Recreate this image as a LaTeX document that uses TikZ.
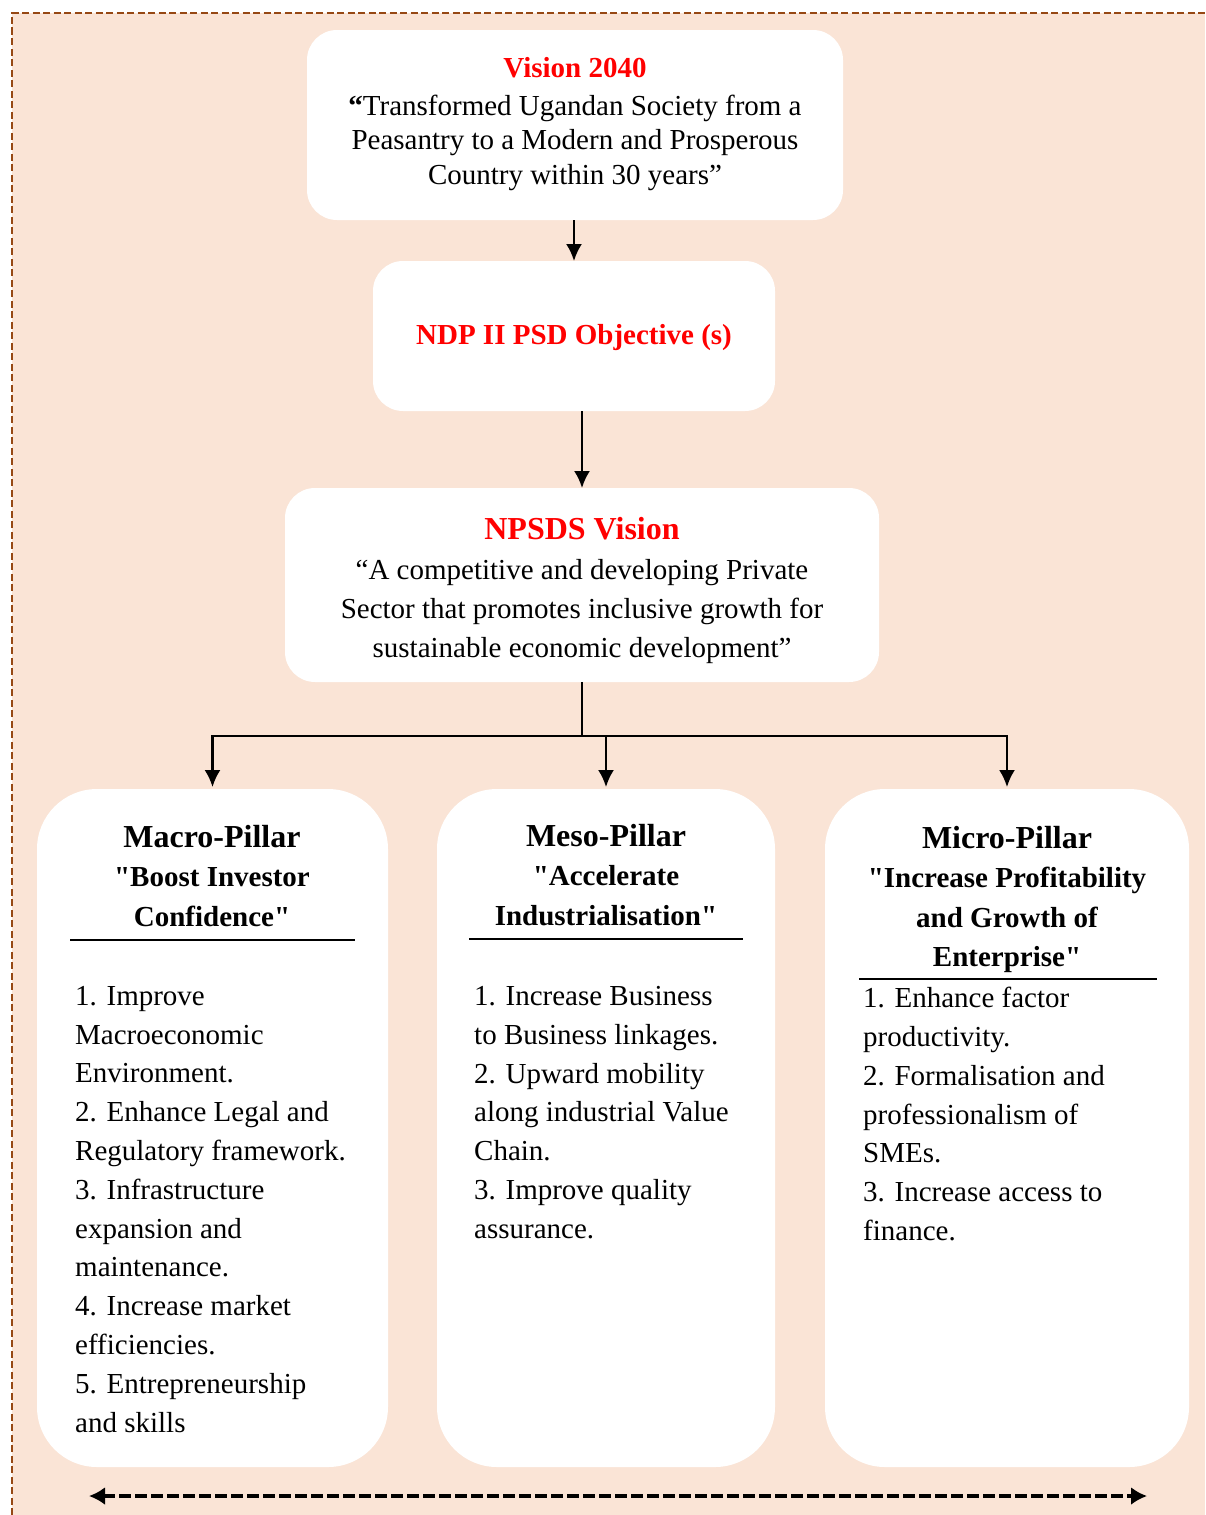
\documentclass[tikz,border=0pt]{standalone}
\usepackage{fontspec}
\setmainfont{Liberation Serif}
\usetikzlibrary{arrows.meta}
\definecolor{peach}{RGB}{250,228,214}
\definecolor{brownb}{RGB}{150,72,20}
\definecolor{vred}{RGB}{255,0,0}
\newcommand{\sq}{\textquotedbl}
\newcommand{\bigttl}{\fontsize{32}{39.5}\selectfont\bfseries}
\begin{document}
\begin{tikzpicture}[x=1pt,y=-1pt,
  wbox/.style={fill=white, draw=none, inner sep=0pt, outer sep=0pt, anchor=north west},
  topbox/.style={wbox, rounded corners=30pt},
  pillar/.style={wbox, rounded corners=60pt},
  ttl/.style={inner sep=0pt, anchor=north, align=center, text=vred, font=\fontsize{29}{34.5}\selectfont\bfseries},
  body/.style={inner sep=0pt, anchor=north, align=center, font=\fontsize{29}{34.5}\selectfont},
  head/.style={inner sep=0pt, anchor=north, align=center, font=\fontsize{29}{39.5}\selectfont\bfseries},
  items/.style={inner sep=0pt, anchor=north west, align=left, font=\fontsize{29}{38.8}\selectfont},
  conn/.style={line width=2.2pt, -{Latex[length=17pt,width=16pt]}},
  rule/.style={line width=2.2pt}]
\useasboundingbox (0,0) rectangle (1205,1515);
% background panel
\fill[peach] (12,13) rectangle (1205,1515);
\draw[brownb, line width=2.5pt, dash pattern=on 7pt off 3.5pt] (12,1515) -- (12,13) -- (1205,13);

% top boxes
\node[topbox, minimum width=536pt, minimum height=190pt] (vision) at (307,30) {};
\node[topbox, minimum width=402pt, minimum height=150pt] (ndp) at (373,261) {};
\node[topbox, minimum width=594pt, minimum height=194pt] (npsds) at (285,488) {};

% pillars
\node[pillar, minimum width=351pt, minimum height=678pt] (macro) at (37,789) {};
\node[pillar, minimum width=338pt, minimum height=678pt] (meso) at (437,789) {};
\node[pillar, minimum width=364pt, minimum height=678pt] (micro) at (825,789) {};

% texts
\node[body] (visiontext) at (575,57) {{\color{vred}\bfseries Vision 2040}\\[3.5pt]
  {\bfseries “}Transformed Ugandan Society from a\\
  Peasantry to a Modern and Prosperous\\
  Country within 30 years”};
\node[ttl] (ndptext) at (574,324) {NDP II PSD Objective (s)};
\node[body, font=\fontsize{29}{39}\selectfont] (npsdstext) at (582,517) {{\color{vred}\fontsize{32}{39}\selectfont\bfseries NPSDS Vision}\\[1pt]
  “A competitive and developing Private\\
  Sector that promotes inclusive growth for\\
  sustainable economic development”};

\node[head] (macrohead) at (212,825) {{\bigttl Macro-Pillar}\\\sq Boost Investor\\Confidence\sq};
\node[head] (mesohead) at (606,824) {{\bigttl Meso-Pillar}\\\sq Accelerate\\Industrialisation\sq};
\node[head] (microhead) at (1007,826) {{\bigttl Micro-Pillar}\\\sq Increase Profitability\\and Growth of\\Enterprise\sq};

\draw[rule] (70,940) -- (355,940);
\draw[rule] (469,939) -- (743,939);
\draw[rule] (859,979) -- (1157,979);

\node[items] (macroitems) at (75,986) {1. Improve\\Macroeconomic\\Environment.\\2. Enhance Legal and\\Regulatory framework.\\3. Infrastructure\\expansion and\\maintenance.\\4. Increase market\\efficiencies.\\5. Entrepreneurship\\and skills};
\node[items] (mesoitems) at (474,986) {1. Increase Business\\to Business linkages.\\2. Upward mobility\\along industrial Value\\Chain.\\3. Improve quality\\assurance.};
\node[items] (microitems) at (863,987) {1. Enhance factor\\productivity.\\2. Formalisation and\\professionalism of\\SMEs.\\3. Increase access to\\finance.};

% connectors
\draw[conn] (vision.south -| ndp.north) -- (ndp.north);
\draw[conn] (ndp.south -| npsds.north) -- (npsds.north);
\coordinate (junc) at (582,736);
\draw[line width=1.8pt] (npsds.south) -- (junc);
\draw[conn, shorten >=2pt] (junc) -| (macro.north);
\draw[conn, shorten >=2pt] (junc) -| (micro.north);
\draw[conn, shorten >=2pt] (junc -| meso.north) -- (meso.north);

% bottom double arrow
\coordinate (bl) at (89,1496);
\coordinate (br) at (1147,1496);
\draw[line width=4pt, dash pattern=on 12pt off 4pt, {Latex[length=16pt,width=18pt]}-{Latex[length=16pt,width=18pt]}] (bl) -- (br);
\end{tikzpicture}
\end{document}
